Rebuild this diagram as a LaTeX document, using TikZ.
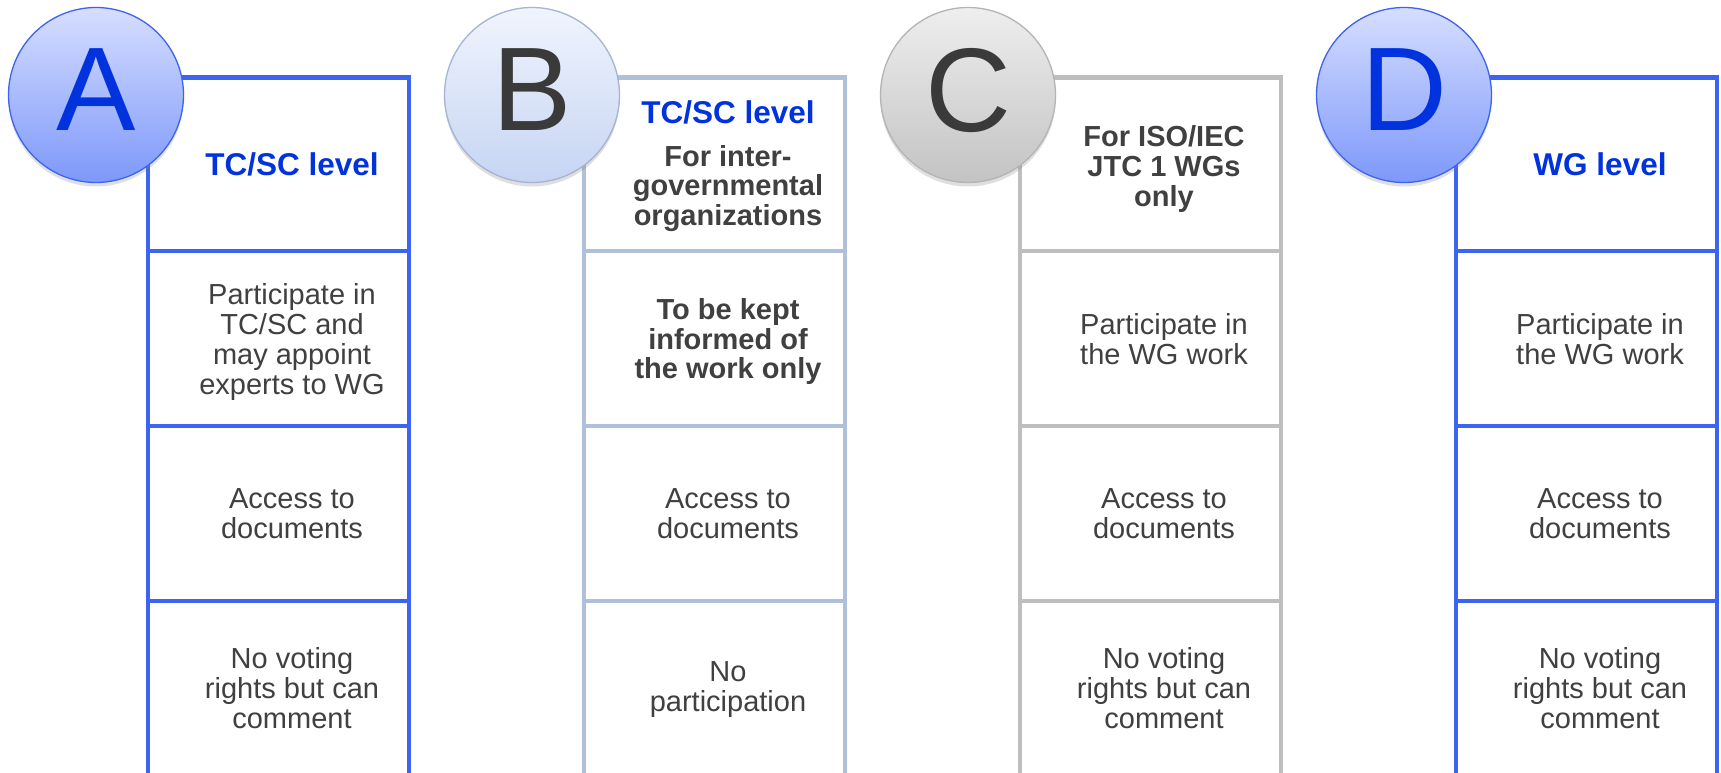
\documentclass[tikz,border=0pt]{standalone}
\usepackage{fontspec}
\setmainfont{Liberation Sans}
\usepackage{xcolor}
\usepackage{tikz}
\usetikzlibrary{shadows}

\definecolor{lineblue}{RGB}{60,100,240}
\definecolor{linesteel}{RGB}{176,192,216}
\definecolor{linegray}{RGB}{190,190,190}
\definecolor{headblue}{RGB}{0,51,221}
\definecolor{bodygray}{RGB}{64,64,64}
\definecolor{lettergray}{RGB}{58,58,58}

\begin{document}
\begin{tikzpicture}[x=1pt, y=-1pt,
    frame/.style={line width=4.5pt},
    cellbody/.style={align=center, text=bodygray, font=\fontsize{29}{30}\selectfont},
    cellbold/.style={align=center, text=bodygray, font=\fontsize{29}{29.6}\selectfont\bfseries},
    cellhead/.style={align=center, text=headblue, font=\fontsize{31.5}{33}\selectfont\bfseries},
    badge/.style={circle, minimum size=175pt, inner sep=0pt, line width=1.3pt,
        text depth=11pt, font=\fontsize{119}{119}\selectfont,
        drop shadow={opacity=0.25, shadow xshift=0pt, shadow yshift=-4pt}}]
    \path[use as bounding box, clip] (0,0) rectangle (1721,773);
    \fill[white] (0,0) rectangle (1721,773);

    % Column A: TC/SC level
    \draw[frame, lineblue] (148,77.5) rectangle (409,775.5);
    \draw[frame, lineblue] (148,251) -- (409,251) (148,426) -- (409,426) (148,601) -- (409,601);
    \node[cellhead] (headA) at (292,164) {TC/SC level};
    \node[cellbody] (roleA) at (292,342) {Participate in\\TC/SC and\\may appoint\\experts to WG};
    \node[cellbody] (docsA) at (292,513.5) {Access to\\documents};
    \node[cellbody] (voteA) at (292,688) {No voting\\rights but can\\comment};
    \node[badge, draw=lineblue, top color={rgb,255:red,214;green,222;blue,255},
        bottom color={rgb,255:red,125;green,152;blue,250}, text=headblue] (badgeA) at (96,95) {A};

    % Column B: TC/SC level, inter-governmental organizations
    \draw[frame, linesteel] (584,77.5) rectangle (845,775.5);
    \draw[frame, linesteel] (584,251) -- (845,251) (584,426) -- (845,426) (584,601) -- (845,601);
    \node[cellhead] (headB) at (728,112) {TC/SC level};
    \node[cellbold] (subB) at (728,188.5) {For inter-\\governmental\\organizations};
    \node[cellbold] (roleB) at (728,341.5) {To be kept\\informed of\\the work only};
    \node[cellbody] (docsB) at (728,513.5) {Access to\\documents};
    \node[cellbody] (voteB) at (728,690) {No\\participation};
    \node[badge, draw={rgb,255:red,165;green,180;blue,210}, top color={rgb,255:red,240;green,244;blue,253},
        bottom color={rgb,255:red,198;green,213;blue,243}, text=lettergray] (badgeB) at (532,95) {B};

    % Column C: JTC 1 working groups
    \draw[frame, linegray] (1020,77.5) rectangle (1281,775.5);
    \draw[frame, linegray] (1020,251) -- (1281,251) (1020,426) -- (1281,426) (1020,601) -- (1281,601);
    \node[cellbold] (headC) at (1164,169) {For ISO/IEC\\JTC 1 WGs\\only};
    \node[cellbody] (roleC) at (1164,339) {Participate in\\the WG work};
    \node[cellbody] (docsC) at (1164,513.5) {Access to\\documents};
    \node[cellbody] (voteC) at (1164,688) {No voting\\rights but can\\comment};
    \node[badge, draw={rgb,255:red,180;green,180;blue,180}, top color={rgb,255:red,238;green,238;blue,238},
        bottom color={rgb,255:red,195;green,195;blue,195}, text=lettergray] (badgeC) at (968,95) {C};

    % Column D: WG level
    \draw[frame, lineblue] (1456,77.5) rectangle (1717,775.5);
    \draw[frame, lineblue] (1456,251) -- (1717,251) (1456,426) -- (1717,426) (1456,601) -- (1717,601);
    \node[cellhead] (headD) at (1600,164) {WG level};
    \node[cellbody] (roleD) at (1600,339) {Participate in\\the WG work};
    \node[cellbody] (docsD) at (1600,513.5) {Access to\\documents};
    \node[cellbody] (voteD) at (1600,688) {No voting\\rights but can\\comment};
    \node[badge, draw=lineblue, top color={rgb,255:red,214;green,222;blue,255},
        bottom color={rgb,255:red,125;green,152;blue,250}, text=headblue] (badgeD) at (1404,95) {D};
\end{tikzpicture}
\end{document}
